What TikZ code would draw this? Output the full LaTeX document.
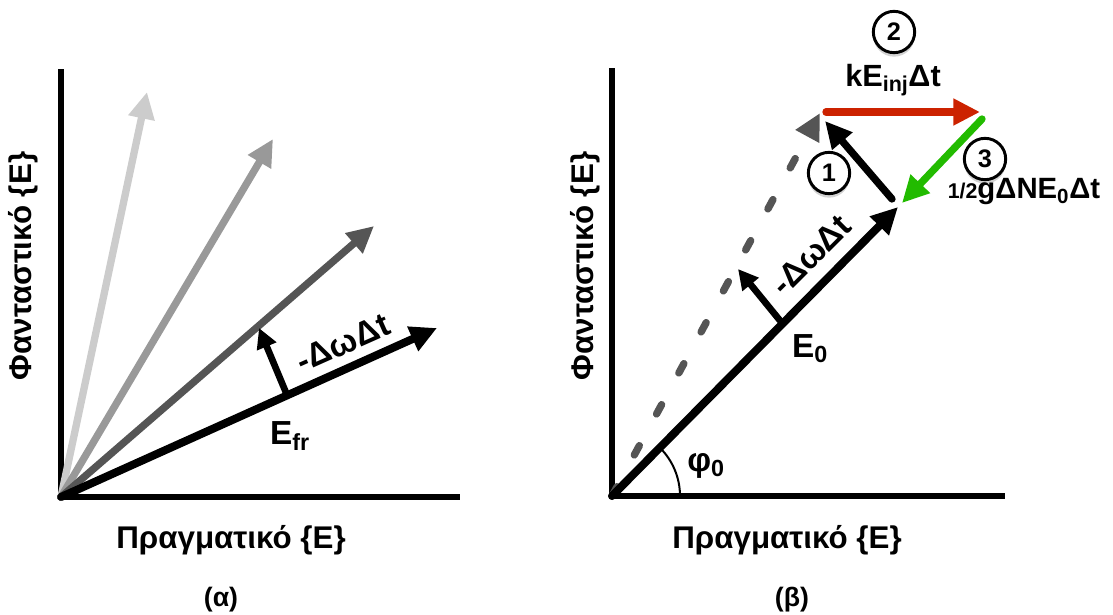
\documentclass[tikz,border=0pt]{standalone}
\usepackage{fontspec}
\setmainfont{Liberation Sans}
\usetikzlibrary{arrows.meta,shadows}
\definecolor{PhasorLight}{HTML}{CCCCCC}
\definecolor{PhasorMid}{HTML}{999999}
\definecolor{PhasorDark}{HTML}{555555}
\definecolor{InjRed}{HTML}{CC2200}
\definecolor{GainGreen}{HTML}{22BB00}

\tikzset{
  axis/.style={line width=5pt,line cap=butt,line join=miter},
  phasor/.style={line width=5.5pt,-{Triangle[length=20pt,width=19pt]}},
  nudge/.style={line width=5pt,-{Triangle[length=15pt,width=15pt]}},
  axlbl/.style={font=\bfseries\fontsize{23.5}{26}\selectfont},
  veclbl/.style={font=\bfseries\fontsize{25}{28}\selectfont},
  caption/.style={font=\bfseries\fontsize{20}{22}\selectfont},
  stepnum/.style={circle,draw,line width=2.2pt,fill=white,minimum size=31pt,inner sep=0pt,
    font=\bfseries\fontsize{19}{19}\selectfont,
    drop shadow={shadow xshift=0pt,shadow yshift=-3pt,opacity=.35}}
}

\begin{document}
\begin{tikzpicture}[x=0.75pt,y=-0.75pt,line cap=round,line join=round]
  \useasboundingbox (0,0) rectangle (1113,614);
  % (a) rotating free-running field
  \coordinate (Oa) at (61,497); \coordinate (Ya) at (61,69); \coordinate (Xa) at (460,497);
  \draw[axis] (Ya) -- (Oa) -- (Xa);
  \coordinate (Pa1) at (147,92); \coordinate (Pa2) at (273,139);
  \coordinate (Pa3) at (374,226); \coordinate (Pfr) at (437,328);
  \draw[phasor,PhasorLight] (Oa) -- (Pa1);
  \draw[phasor,PhasorMid] (Oa) -- (Pa2);
  \draw[phasor,PhasorDark] (Oa) -- (Pa3);
  \draw[phasor,line width=6pt] (Oa) -- (Pfr);
  \coordinate (Ra) at (287,395); \coordinate (Ra') at (259,328);
  \draw[nudge] (Ra) -- (Ra');
  \node[veclbl,rotate=24] (dwa) at (343,343) {-ΔωΔt};
  \node[veclbl] (efr) at (290,436) {E\textsubscript{fr}};
  \node[axlbl] (xa) at (231,540) {Πραγματικό \{E\}};
  \node[axlbl,rotate=90] (ya) at (23,266) {Φανταστικό \{E\}};
  \node[caption] (ca) at (221,600) {(α)};

  % (b) injection-locked field
  \coordinate (Ob) at (612,496); \coordinate (Yb) at (612,68); \coordinate (Xb) at (1005,496);
  \draw[axis] (Yb) -- (Ob) -- (Xb);
  \coordinate (Pg) at (820,113); \coordinate (P0) at (898,207);
  \draw[phasor,PhasorDark,dash pattern=on 8pt off 27pt] (Ob) -- (Pg);
  \draw[phasor,line width=6pt] (Ob) -- (P0);
  \coordinate (Rb) at (782,323); \coordinate (Rb') at (738,269);
  \draw[nudge] (Rb) -- (Rb');
  \draw[line width=1.5pt] (Ob) ++(68,0) arc[start angle=0,end angle=-45,radius=68];
  \coordinate (S1) at (892,199); \coordinate (T1) at (825,121);
  \coordinate (S2) at (826,112); \coordinate (T2) at (980,112);
  \coordinate (S3) at (982,119); \coordinate (T3) at (902,203);
  \draw[phasor] (S1) -- (T1);
  \draw[phasor,InjRed] (S2) -- (T2);
  \draw[phasor,GainGreen] (S3) -- (T3);
  \node[stepnum] (n1) at (829,173) {1};
  \node[stepnum] (n2) at (894,32) {2};
  \node[stepnum] (n3) at (985,159) {3};
  \node[veclbl,font=\bfseries\fontsize{23}{26}\selectfont] (inj) at (893,80) {kE\textsubscript{inj}Δt};
  \node[veclbl,font=\bfseries\fontsize{22}{24}\selectfont] (gain) at (1024,192) {{\fontsize{16}{18}\selectfont 1/2}gΔNE\textsubscript{0}Δt};
  \node[veclbl,rotate=45] (dwb) at (811,255) {-ΔωΔt};
  \node[veclbl] (e0) at (810,349) {E\textsubscript{0}};
  \node[veclbl] (phi) at (706,466) {φ\textsubscript{0}};
  \node[axlbl] (xb) at (787,540) {Πραγματικό \{E\}};
  \node[axlbl,rotate=90] (yb) at (585,266) {Φανταστικό \{E\}};
  \node[caption] (cb) at (792,600) {(β)};
\end{tikzpicture}
\end{document}
